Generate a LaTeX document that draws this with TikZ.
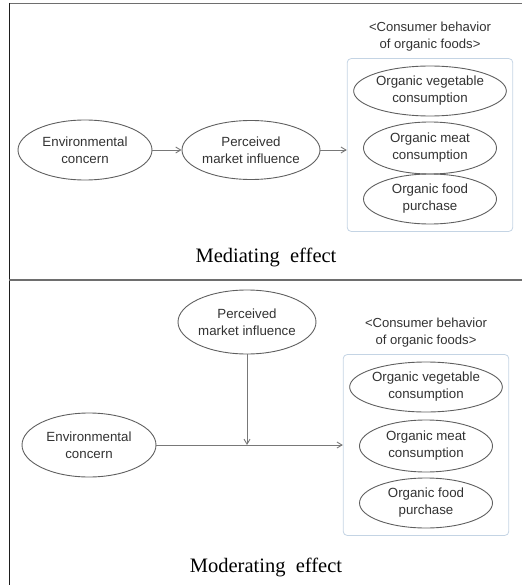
\documentclass[tikz,border=0pt]{standalone}
\usepackage{fontspec}
\setmainfont{Liberation Serif}
\setsansfont{Liberation Sans}
\usepackage{tikz}
\usetikzlibrary{positioning,arrows.meta,fit,backgrounds,shapes.geometric}
\usepackage{xcolor}
\definecolor{cFrame}{RGB}{30,30,30}
\definecolor{cRule}{RGB}{110,110,110}
\definecolor{cOval}{RGB}{95,95,95}
\definecolor{cText}{RGB}{50,50,50}
\definecolor{cBox}{RGB}{196,212,228}
\definecolor{eLine}{RGB}{120,120,120}
\tikzset{
  oval/.style   ={draw=cOval,ellipse,line width=0.9pt,align=center,inner sep=0pt,
                  font=\sffamily\fontsize{13.3}{17}\selectfont,text=cText,
                  minimum width=133pt,minimum height=50pt},
  group/.style  ={draw=cBox,rounded corners=4pt,line width=0.8pt,
                  inner xsep=6pt,inner ysep=7pt},
  ttl/.style    ={align=center,inner sep=1pt,text=cText,
                  font=\sffamily\fontsize{13.1}{16.5}\selectfont},
  caption/.style={font=\fontsize{20.5}{24}\selectfont,inner sep=0pt},
  ed/.style     ={-{Straight Barb[length=5pt,width=6pt]},draw=eLine,line width=0.9pt},
  frame/.style  ={draw=cFrame,line width=1.4pt},
}

\begin{document}
\begin{tikzpicture}[x=1pt,y=-1pt]
\useasboundingbox (0,0) rectangle (522,585);

\draw[frame,draw=cRule,line width=1.8pt] (9,3.6) -- (522,3.6);
\draw[frame] (9.5,3) -- (9.5,585);
\draw[frame,draw=cRule,line width=1.6pt] (9,280) -- (522,280);

% mediating effect
\node[oval,minimum width=134pt,minimum height=60pt] (env1) at (85,150)
 {Environmental\\concern};
\node[oval,minimum width=131pt,minimum height=59pt] (per1) at (251,150)
 {Perceived\\market influence};

\node[oval] (veg1)  at (430,91)  {Organic vegetable\\consumption};
\node[oval,minimum height=52pt] (meat1) at (430,148) {Organic meat\\consumption};
\node[oval] (food1) at (430,199) {Organic food\\purchase};

\begin{scope}[on background layer]
\node[group,fit=(veg1)(meat1)(food1)] (box1) {};
\end{scope}
\node[ttl,above=6pt of box1] (ttl1) {<Consumer behavior\\of organic foods>};

\draw[ed] (env1) -- (per1);
\draw[ed] (per1.east) -- (per1.east -| box1.west);

\node[caption] (cap1) at (266,257) {Mediating\ \ effect};

% moderating effect
\node[oval,minimum width=133pt,minimum height=64pt] (per2) at (247,322)
 {Perceived\\market influence};
\node[oval,minimum width=134pt,minimum height=64pt] (env2) at (89,445)
 {Environmental\\concern};

\node[oval] (veg2)  at (426,387) {Organic vegetable\\consumption};
\node[oval,minimum height=52pt] (meat2) at (426,446) {Organic meat\\consumption};
\node[oval] (food2) at (426,503) {Organic food\\purchase};

\begin{scope}[on background layer]
\node[group,fit=(veg2)(meat2)(food2)] (box2) {};
\end{scope}
\node[ttl,above=6pt of box2] (ttl2) {<Consumer behavior\\of organic foods>};

\draw[ed] (env2.east) -- (env2.east -| box2.west);
\draw[ed] (per2.south) -- (per2.south |- env2.east);

\node[caption] (cap2) at (266,567) {Moderating\ \ effect};

\end{tikzpicture}
\end{document}
